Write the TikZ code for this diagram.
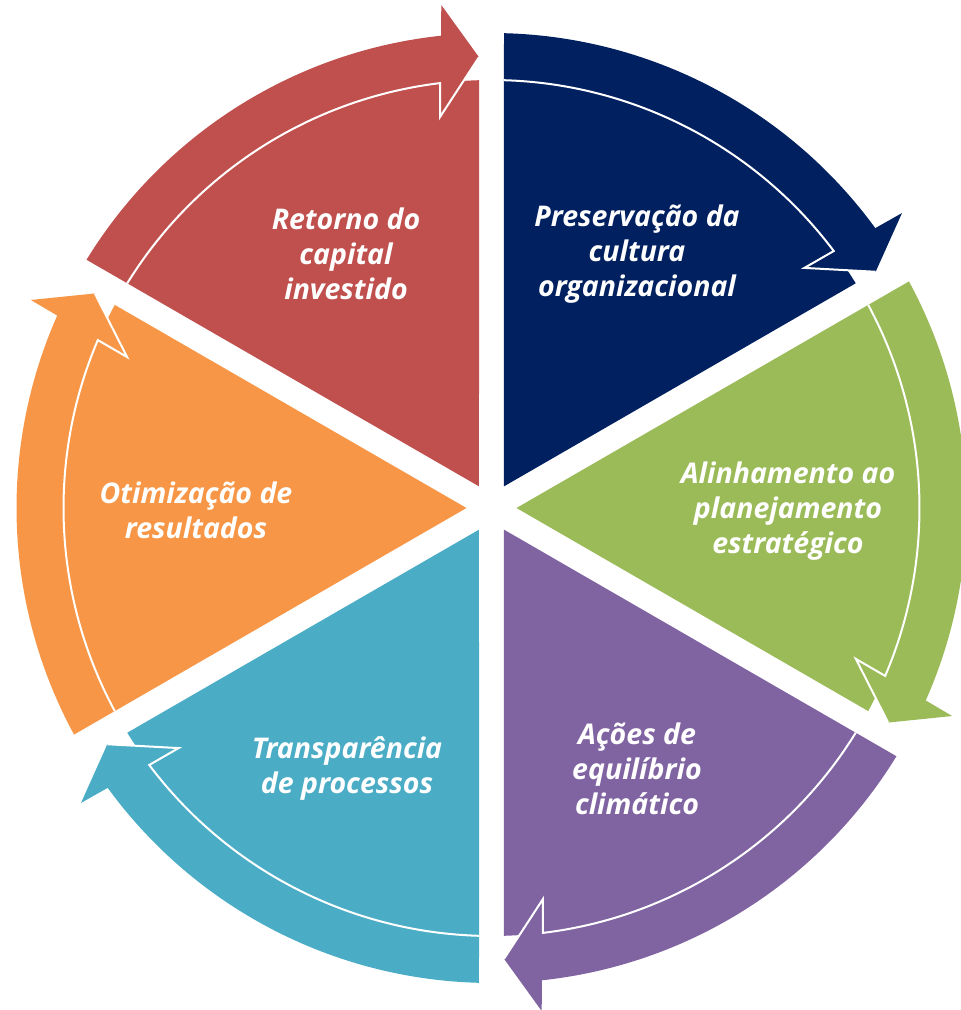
\documentclass[tikz,border=0pt]{standalone}
\usepackage{fontspec}
\setmainfont{Open Sans}
\definecolor{cred}{HTML}{C0504D}
\definecolor{cnavy}{HTML}{002060}
\definecolor{cgreen}{HTML}{9BBB59}
\definecolor{cpurple}{HTML}{8064A2}
\definecolor{cteal}{HTML}{4BACC6}
\definecolor{corange}{HTML}{F79646}
\begin{document}
\begin{tikzpicture}[x=1pt,y=1pt,
  lbl/.style={text=white, font=\fontsize{28.5}{35}\selectfont\bfseries\itshape, align=center, inner sep=0pt},
  outl/.style={draw=white, line width=2pt, line join=miter}]
\useasboundingbox (-491.5pt,-502pt) rectangle (469.5pt,508pt);
\clip (-491.5pt,-502pt) rectangle (469.5pt,508pt);
\foreach \k/\col in {0/cred,1/cnavy,2/cgreen,3/cpurple,4/cteal,5/corange}{
 \begin{scope}[rotate=-60*\k]
  \fill[\col] (120:25pt) -- (148.327:428pt) arc[start angle=148.327, end angle=91.673, radius=428pt] -- cycle;
  \fill[\col] (148.492:475pt) arc[start angle=148.492, end angle=96.1, radius=475pt]
     -- (95.7:505.5pt) -- (91.59:451pt) -- (97.5:394.4pt) -- (96.9:428pt)
     arc[start angle=96.9, end angle=148.327, radius=428pt] -- cycle;
  \draw[outl] (148.327:428pt) arc[start angle=148.327, end angle=96.9, radius=428pt]
     -- (97.5:394.4pt) -- (91.59:451pt);
 \end{scope}
}
\node[lbl] (tred) at (-145.5pt,254pt) {Retorno do\\capital\\investido};
\node[lbl] (tnavy) at (145.5pt,254pt) {Preservação da\\cultura\\organizacional};
\node[lbl] (tgreen) at (296.5pt,-3.5pt) {Alinhamento ao\\planejamento\\estratégico};
\node[lbl] (tpurple) at (145.5pt,-261pt) {Ações de\\equilíbrio\\climático};
\node[lbl] (tteal) at (-144.5pt,-261pt) {Transparência\\de processos};
\node[lbl] (torange) at (-295.5pt,-2.5pt) {Otimização de\\resultados};
\end{tikzpicture}
\end{document}
